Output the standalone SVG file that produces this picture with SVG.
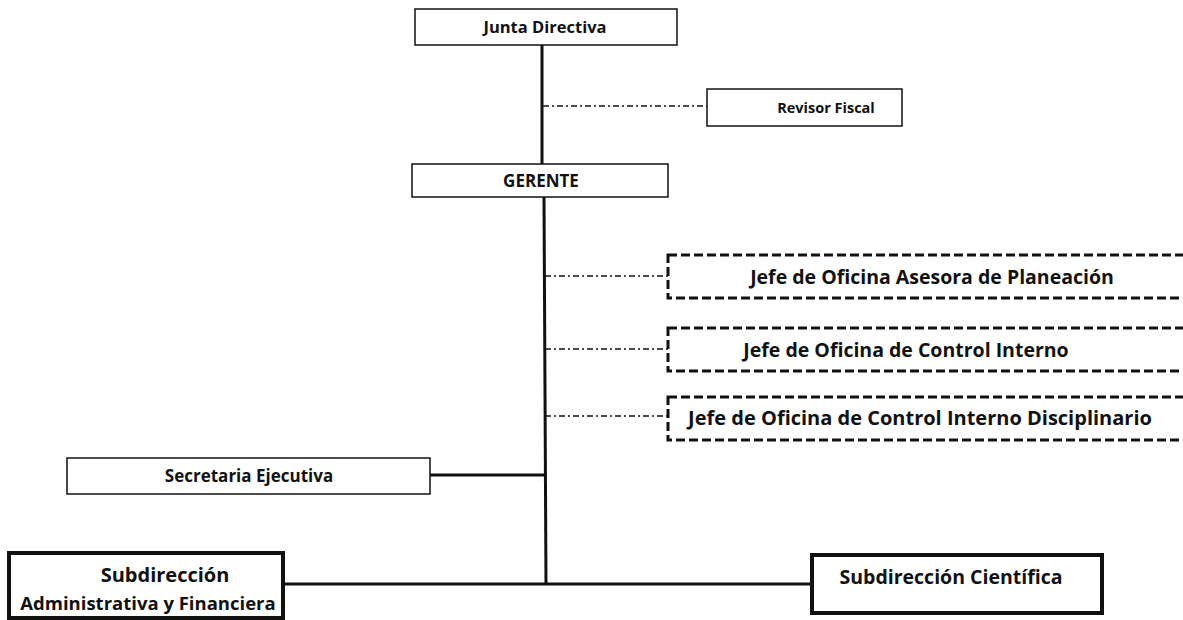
<svg xmlns="http://www.w3.org/2000/svg" width="1183" height="620" viewBox="0 0 1183 620">
<style>
text{font-family:"Open Sans","Noto Sans","Liberation Sans",sans-serif;font-weight:700;fill:#111;text-anchor:middle}
.thin{fill:#fff;stroke:#111;stroke-width:1.5}
.dash{fill:#fff;stroke:#111;stroke-width:3;stroke-dasharray:9 4}
.thick{fill:#fff;stroke:#111;stroke-width:4}
.solid{stroke:#111;stroke-width:3;fill:none}
.dd{stroke:#111;stroke-width:1.5;fill:none;stroke-dasharray:6 3 2 3}
</style>
<rect width="1183" height="620" fill="#fff"/>
<g id="connectors">
<line class="solid" x1="542" y1="45" x2="542" y2="164"/>
<line class="solid" x1="544" y1="197" x2="546" y2="585"/>
<line class="solid" x1="283" y1="584" x2="812" y2="584"/>
<line class="solid" x1="430" y1="475" x2="545" y2="475"/>
<line class="dd" x1="543" y1="106" x2="707" y2="106"/>
<line class="dd" x1="545" y1="276" x2="668" y2="276"/>
<line class="dd" x1="545" y1="349" x2="668" y2="349"/>
<line class="dd" x1="545" y1="416" x2="668" y2="416"/>
</g>
<g id="junta"><rect class="thin" x="415" y="9" width="262" height="36"/><text x="545" y="33" font-size="16.5">Junta Directiva</text></g>
<g id="revisor"><rect class="thin" x="707" y="89" width="195" height="37"/><text x="826" y="113" font-size="14.5">Revisor Fiscal</text></g>
<g id="gerente"><rect class="thin" x="412" y="164" width="256" height="33"/><text x="541" y="187" font-size="17">GERENTE</text></g>
<g id="planeacion"><rect class="dash" x="668" y="255" width="520" height="43"/><text x="932" y="284" font-size="19.5">Jefe de Oficina Asesora de Planeación</text></g>
<g id="control"><rect class="dash" x="668" y="328" width="520" height="43"/><text x="906" y="357" font-size="19.5">Jefe de Oficina de Control Interno</text></g>
<g id="disciplinario"><rect class="dash" x="668" y="397" width="520" height="43"/><text x="920" y="425" font-size="20">Jefe de Oficina de Control Interno Disciplinario</text></g>
<g id="secretaria"><rect class="thin" x="67" y="458" width="363" height="36"/><text x="249" y="482" font-size="17">Secretaria Ejecutiva</text></g>
<g id="administrativa"><rect class="thick" x="9" y="553" width="274" height="65"/><text x="165" y="582" font-size="20">Subdirección</text><text x="148" y="610" font-size="18.5">Administrativa y Financiera</text></g>
<g id="cientifica"><rect class="thick" x="812" y="555" width="290" height="58"/><text x="951" y="584" font-size="19.5">Subdirección Científica</text></g>
</svg>
